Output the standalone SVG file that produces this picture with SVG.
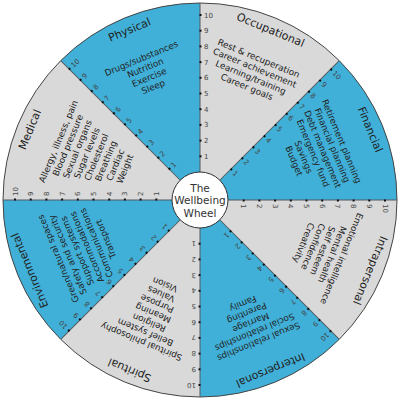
<svg xmlns="http://www.w3.org/2000/svg" xmlns:xlink="http://www.w3.org/1999/xlink" width="400" height="400" viewBox="0 0 400 400">
  <style>
    .blue { fill: #40b0d8; }
    .gray { fill: #d9d9d9; }
    .cat { font-family: "DejaVu Sans", sans-serif; font-size: 11px; fill: #222; text-anchor: middle; }
    .item { font-family: "DejaVu Sans", sans-serif; font-size: 8.8px; fill: #222; text-anchor: middle; }
    .num { font-family: "DejaVu Sans", sans-serif; font-size: 7px; fill: #444; }
    .tick { fill: #111; }
    .title { font-family: "DejaVu Sans", sans-serif; font-size: 10.5px; fill: #333; text-anchor: middle; }
  </style>
  <defs>
    <g id="scale">
      <line x1="200" y1="200" x2="200" y2="3" stroke="#4f5a60" stroke-width="1"/>
      <rect class="tick" x="199.5" y="155.3" width="2" height="2"/>
      <rect class="tick" x="199.5" y="139.6" width="2" height="2"/>
      <rect class="tick" x="199.5" y="123.9" width="2" height="2"/>
      <rect class="tick" x="199.5" y="108.2" width="2" height="2"/>
      <rect class="tick" x="199.5" y="92.5" width="2" height="2"/>
      <rect class="tick" x="199.5" y="76.8" width="2" height="2"/>
      <rect class="tick" x="199.5" y="61.1" width="2" height="2"/>
      <rect class="tick" x="199.5" y="45.4" width="2" height="2"/>
      <rect class="tick" x="199.5" y="29.7" width="2" height="2"/>
      <rect class="tick" x="199.5" y="14" width="2" height="2"/>
      <text class="num" x="204" y="158.8">1</text>
      <text class="num" x="204" y="143.1">2</text>
      <text class="num" x="204" y="127.4">3</text>
      <text class="num" x="204" y="111.7">4</text>
      <text class="num" x="204" y="96">5</text>
      <text class="num" x="204" y="80.3">6</text>
      <text class="num" x="204" y="64.6">7</text>
      <text class="num" x="204" y="48.9">8</text>
      <text class="num" x="204" y="33.2">9</text>
      <text class="num" x="204" y="17.5">10</text>
    </g>
  </defs>

  <g id="sectors">
    <path class="blue" d="M200,200 L60.7,60.7 A197,197 0 0 1 200,3 Z"/>
    <path class="gray" d="M200,200 L200,3 A197,197 0 0 1 339.3,60.7 Z"/>
    <path class="blue" d="M200,200 L339.3,60.7 A197,197 0 0 1 397,200 Z"/>
    <path class="gray" d="M200,200 L397,200 A197,197 0 0 1 339.3,339.3 Z"/>
    <path class="blue" d="M200,200 L339.3,339.3 A197,197 0 0 1 200,397 Z"/>
    <path class="gray" d="M200,200 L200,397 A197,197 0 0 1 60.7,339.3 Z"/>
    <path class="blue" d="M200,200 L60.7,339.3 A197,197 0 0 1 3,200 Z"/>
    <path class="gray" d="M200,200 L3,200 A197,197 0 0 1 60.7,60.7 Z"/>
    <circle cx="200" cy="200" r="197" fill="none" stroke="#444" stroke-width="1"/>
  </g>

  <g id="connectors">
    <use xlink:href="#scale" href="#scale"/>
    <use xlink:href="#scale" href="#scale" transform="rotate(45 200 200)"/>
    <use xlink:href="#scale" href="#scale" transform="rotate(90 200 200)"/>
    <use xlink:href="#scale" href="#scale" transform="rotate(135 200 200)"/>
    <use xlink:href="#scale" href="#scale" transform="rotate(180 200 200)"/>
    <use xlink:href="#scale" href="#scale" transform="rotate(225 200 200)"/>
    <use xlink:href="#scale" href="#scale" transform="rotate(270 200 200)"/>
    <use xlink:href="#scale" href="#scale" transform="rotate(315 200 200)"/>
  </g>

  <g id="physical" transform="rotate(-22.5 200 200)">
    <text class="cat" x="200" y="19.5">Physical</text>
    <text class="item" x="200" y="49.7">Drugs/substances<tspan x="200" dy="10.3">Nutrition</tspan><tspan x="200" dy="10.3">Exercise</tspan><tspan x="200" dy="10.3">Sleep</tspan></text>
  </g>
  <g id="occupational" transform="rotate(22.5 200 200)">
    <text class="cat" x="200" y="19.5">Occupational</text>
    <text class="item" x="200" y="49.7">Rest &amp; recuperation<tspan x="200" dy="10.3">Career achievement</tspan><tspan x="200" dy="10.3">Learning/training</tspan><tspan x="200" dy="10.3">Career goals</tspan></text>
  </g>
  <g id="financial" transform="rotate(67.5 200 200)">
    <text class="cat" x="200" y="19.5">Financial</text>
    <text class="item" x="200" y="49.7">Retirement planning<tspan x="200" dy="10.3">Financial planning</tspan><tspan x="200" dy="10.3">Debt management</tspan><tspan x="200" dy="10.3">Emergency fund</tspan><tspan x="200" dy="10.3">Savings</tspan><tspan x="200" dy="10.3">Budget</tspan></text>
  </g>
  <g id="intrapersonal" transform="rotate(112.5 200 200)">
    <text class="cat" x="200" y="19.5">Intrapersonal</text>
    <text class="item" x="200" y="49.7">Emotional intelligence<tspan x="200" dy="10.3">Mental health</tspan><tspan x="200" dy="10.3">Self esteem</tspan><tspan x="200" dy="10.3">Confidence</tspan><tspan x="200" dy="10.3">Creativity</tspan></text>
  </g>
  <g id="interpersonal" transform="rotate(157.5 200 200)">
    <text class="cat" x="200" y="19.5">Interpersonal</text>
    <text class="item" x="200" y="49.7">Sexual relationships<tspan x="200" dy="10.3">Social relationships</tspan><tspan x="200" dy="10.3">Marriage</tspan><tspan x="200" dy="10.3">Parenting</tspan><tspan x="200" dy="10.3">Family</tspan></text>
  </g>
  <g id="spiritual" transform="rotate(202.5 200 200)">
    <text class="cat" x="200" y="19.5">Spiritual</text>
    <text class="item" x="200" y="49.7">Spiritual philosophy<tspan x="200" dy="10.3">Belief system</tspan><tspan x="200" dy="10.3">Religion</tspan><tspan x="200" dy="10.3">Meaning</tspan><tspan x="200" dy="10.3">Purpose</tspan><tspan x="200" dy="10.3">Values</tspan><tspan x="200" dy="10.3">Vision</tspan></text>
  </g>
  <g id="environmental" transform="rotate(247.5 200 200)">
    <text class="cat" x="200" y="19.5">Environmental</text>
    <text class="item" x="200" y="49.7">Green/natural spaces<tspan x="200" dy="10.3">Safety and security</tspan><tspan x="200" dy="10.3">Support systems</tspan><tspan x="200" dy="10.3">Accommodations</tspan><tspan x="200" dy="10.3">Communications</tspan><tspan x="200" dy="10.3">Transport</tspan></text>
  </g>
  <g id="medical" transform="rotate(292.5 200 200)">
    <text class="cat" x="200" y="19.5">Medical</text>
    <text class="item" x="200" y="49.7">Allergy, illness, pain<tspan x="200" dy="10.3">Blood pressure</tspan><tspan x="200" dy="10.3">Sexual organs</tspan><tspan x="200" dy="10.3">Sugar levels</tspan><tspan x="200" dy="10.3">Cholesterol</tspan><tspan x="200" dy="10.3">Breathing</tspan><tspan x="200" dy="10.3">Cardiac</tspan><tspan x="200" dy="10.3">Weight</tspan></text>
  </g>

  <g id="center">
    <circle cx="200" cy="200" r="28" fill="#fff" stroke="#333" stroke-width="1"/>
    <text class="title" x="200" y="191.5">The<tspan x="200" dy="12.5">Wellbeing</tspan><tspan x="200" dy="12.5">Wheel</tspan></text>
  </g>
</svg>
